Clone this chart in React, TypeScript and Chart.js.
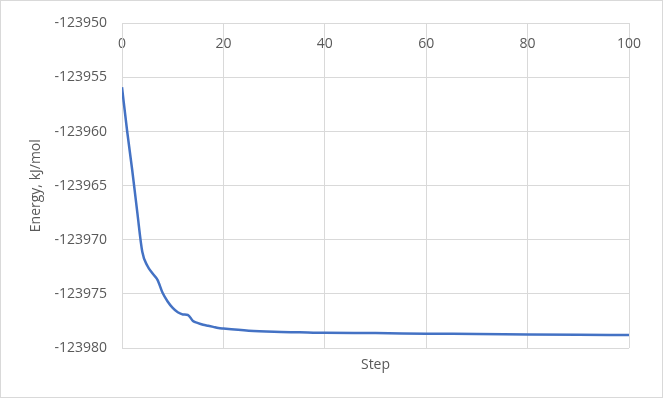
import React, { useEffect, useRef } from "react";
import { Chart, registerables } from "chart.js";

Chart.register(...registerables);

// Data
const steps = [0, 1, 2, 3, 4, 5, 6, 7, 8, 9, 10, 11, 12, 13, 14, 15, 16, 17, 18, 19, 20, 25, 30, 35, 40, 50, 60, 70, 80, 90, 100];
const energies = [
  -123955.9, -123959.9, -123963.5, -123967.4, -123971.1, -123972.4, -123973.1, -123973.7,
  -123974.9, -123975.7, -123976.3, -123976.7, -123976.9, -123976.95, -123977.5, -123977.7,
  -123977.85, -123977.95, -123978.05, -123978.15, -123978.2, -123978.4, -123978.5,
  -123978.55, -123978.6, -123978.62, -123978.68, -123978.7, -123978.75, -123978.78, -123978.8,
];

const xMin = 0;
const xMax = 100;
const xStep = 20;
const yMin = -123980;
const yMax = -123950;
const yStep = 5;

const xTitle = "Step";
const yTitle = "Energy, kJ/mol";

const FONT = "'Open Sans', 'Liberation Sans', sans-serif";
const TEXT = "#595959";
const GRID = "#d9d9d9";
const LINE = "#4472C4";

const outerBorder = {
  id: "outerBorder",
  beforeDraw(chart: any) {
    const ctx = chart.ctx;
    ctx.save();
    ctx.fillStyle = "#ffffff";
    ctx.fillRect(0, 0, chart.width, chart.height);
    ctx.strokeStyle = GRID;
    ctx.lineWidth = 1;
    ctx.strokeRect(0.5, 0.5, 662, 397);
    ctx.restore();
  },
};

export default function App() {
  const ref = useRef<HTMLCanvasElement | null>(null);

  useEffect(() => {
    document.body.style.margin = "0";
    const canvas = ref.current;
    if (!canvas) return;
    const chart = new Chart(canvas, {
      type: "line",
      data: {
        datasets: [
          {
            data: steps.map((s, i) => ({ x: s, y: energies[i] })),
            borderColor: LINE,
            borderWidth: 2.5,
            pointRadius: 0,
            fill: false,
            cubicInterpolationMode: "monotone",
          },
        ],
      },
      options: {
        responsive: false,
        animation: false,
        devicePixelRatio: 1,
        layout: { padding: { left: 0, top: 21, right: 34, bottom: 0 } },
        plugins: {
          legend: { display: false },
          tooltip: { enabled: false },
        },
        scales: {
          x: {
            type: "linear",
            position: "top",
            min: xMin,
            max: xMax,
            afterFit: (s: any) => {
              s.height = 0;
            },
            ticks: {
              stepSize: xStep,
              mirror: true,
              padding: 12,
              color: TEXT,
              font: { family: FONT, size: 14 },
              maxRotation: 0,
            },
            grid: { color: GRID, lineWidth: 1, drawTicks: false },
            border: { color: GRID, width: 1 },
          },
          x2: {
            type: "linear",
            position: "bottom",
            min: xMin,
            max: xMax,
            afterFit: (s: any) => {
              s.height = 51;
            },
            ticks: { display: false },
            grid: { display: false },
            border: { display: false },
            title: {
              display: true,
              text: xTitle,
              color: TEXT,
              font: { family: FONT, size: 14 },
              padding: { top: 0, bottom: 26 },
            },
          },
          y: {
            type: "linear",
            position: "left",
            min: yMin,
            max: yMax,
            afterFit: (s: any) => {
              s.width = 122;
            },
            ticks: {
              stepSize: yStep,
              padding: 15,
              color: TEXT,
              font: { family: FONT, size: 14 },
              callback: (v: any) => String(Math.round(Number(v))),
            },
            grid: { color: GRID, lineWidth: 1, drawTicks: false },
            border: { color: GRID, width: 1 },
            title: {
              display: true,
              text: yTitle,
              color: TEXT,
              font: { family: FONT, size: 14 },
              padding: { top: 28, bottom: 0 },
            },
          },
        },
      },
      plugins: [outerBorder],
    });
    return () => chart.destroy();
  }, []);

  return <canvas ref={ref} width={663} height={399} style={{ display: "block" }} />;
}
